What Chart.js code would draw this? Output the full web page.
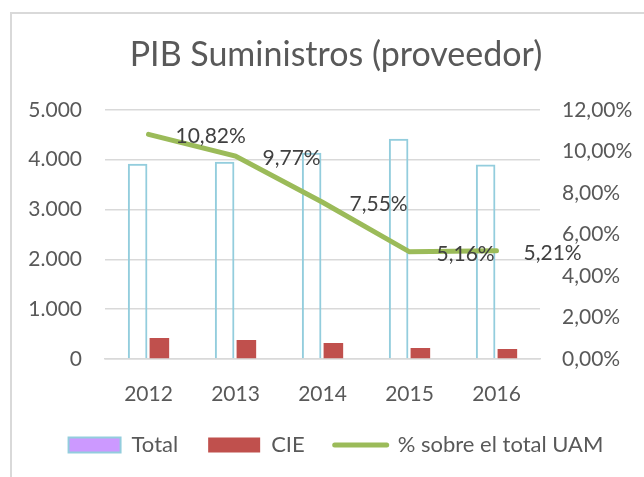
<!DOCTYPE html>
<html>
<head>
<meta charset="utf-8">
<script src="https://cdn.jsdelivr.net/npm/chart.js@4"></script>
<style>
  html, body { margin: 0; padding: 0; background: #fff; overflow: hidden; }
  #wrap { position: relative; width: 644px; height: 477px; }
  #frame { position: absolute; left: 10px; top: 12px; width: 700px; height: 600px; border: 2px solid #d9d9d9; box-sizing: border-box; }
  canvas { position: absolute; left: 0; top: 0; }
</style>
</head>
<body>
<div id="wrap">
  <div id="frame"></div>
  <canvas id="c" width="644" height="477"></canvas>
</div>
<script>
const FONT = "Lato, 'Open Sans', sans-serif";
const TEXT = '#595959', GRID = '#d9d9d9';

const years = ['2012', '2013', '2014', '2015', '2016'];
const total = [3920, 3960, 4140, 4420, 3900];
const cie = [420, 380, 320, 220, 200];
const pctUAM = [10.82, 9.77, 7.55, 5.16, 5.21];

const thousands = (v) => String(v).replace(/\B(?=(\d{3})+(?!\d))/g, '.');
const pct = (v) => v.toFixed(2).replace('.', ',') + '%';

// value labels to the right of each line point
const pointLabels = {
  id: 'pointLabels',
  afterDatasetsDraw(chart) {
    const meta = chart.getDatasetMeta(2);
    const ctx = chart.ctx;
    ctx.save();
    ctx.font = `21px ${FONT}`;
    ctx.fillStyle = '#404040';
    ctx.textAlign = 'left';
    ctx.textBaseline = 'middle';
    meta.data.forEach((p, i) => ctx.fillText(pct(pctUAM[i]), p.x + 27, p.y + 2));
    ctx.restore();
  }
};

new Chart(document.getElementById('c'), {
  type: 'bar',
  data: {
    labels: years,
    datasets: [
      { label: 'Total', data: total, backgroundColor: 'rgba(255,255,255,0)', borderColor: '#93cddd', borderWidth: 2,
        categoryPercentage: 0.5, barPercentage: 0.9, order: 1, yAxisID: 'y' },
      { label: 'CIE', data: cie, backgroundColor: '#c0504d', borderWidth: 0,
        categoryPercentage: 0.5, barPercentage: 0.9, order: 2, yAxisID: 'y' },
      { type: 'line', label: '% sobre el total UAM', data: pctUAM, borderColor: '#9bbb59', backgroundColor: '#9bbb59',
        borderWidth: 5, borderCapStyle: 'round', pointRadius: 0, tension: 0, order: 0, yAxisID: 'y1' }
    ]
  },
  options: {
    responsive: false, animation: false,
    layout: { padding: { left: 28, right: 0, top: 0, bottom: 11 } },
    plugins: {
      tooltip: { enabled: false },
      title: { display: true, text: 'PIB Suministros (proveedor)', color: TEXT,
        font: { family: FONT, size: 34, weight: 'normal', lineHeight: 1.2 }, padding: { top: 35, bottom: 34 } },
      legend: {
        position: 'bottom',
        labels: {
          font: { family: FONT, size: 22 }, color: TEXT, usePointStyle: true, pointStyleWidth: 52, boxHeight: 15, padding: 30,
          sort: (a, b) => a.datasetIndex - b.datasetIndex,
          generateLabels(chart) {
            const items = Chart.defaults.plugins.legend.labels.generateLabels(chart);
            items.forEach((it) => {
              if (it.datasetIndex === 0) { it.fillStyle = '#cc99ff'; it.strokeStyle = '#93cddd'; it.lineWidth = 2; it.pointStyle = 'rect'; }
              else if (it.datasetIndex === 1) { it.pointStyle = 'rect'; }
              else { it.pointStyle = 'line'; it.lineWidth = 5; it.lineCap = 'round'; }
            });
            return items;
          }
        }
      }
    },
    scales: {
      x: {
        grid: { display: false },
        border: { color: GRID, width: 1.5 },
        ticks: { font: { family: FONT, size: 21 }, color: TEXT, padding: 15 },
        afterFit: (s) => { s.height = 45; }
      },
      y: {
        position: 'left', min: 0, max: 5000,
        grid: { color: GRID, lineWidth: 1.5, drawTicks: false },
        border: { display: false },
        ticks: { stepSize: 1000, font: { family: FONT, size: 21 }, color: TEXT, padding: 23, callback: (v) => thousands(v) },
        afterFit: (s) => { s.width = 77; }
      },
      y1: {
        position: 'right', min: 0, max: 12,
        grid: { display: false, drawTicks: false },
        border: { display: false },
        ticks: { stepSize: 2, font: { family: FONT, size: 21 }, color: TEXT, padding: 22, callback: (v) => pct(v) },
        afterFit: (s) => { s.width = 104; }
      }
    }
  },
  plugins: [pointLabels]
});
</script>
</body>
</html>
